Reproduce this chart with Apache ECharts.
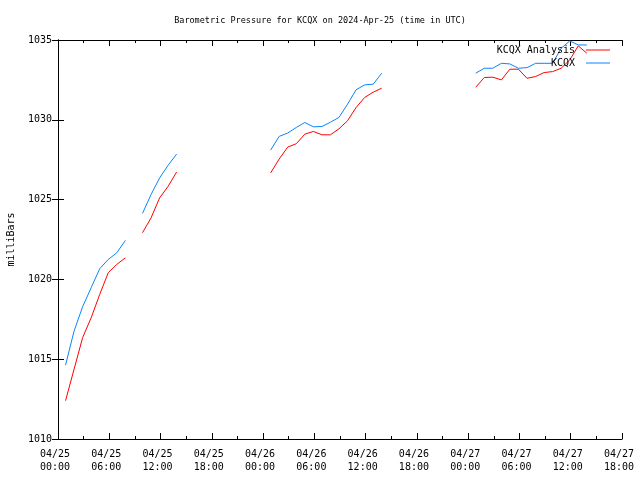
<!DOCTYPE html>
<html>
<head>
<meta charset="utf-8">
<script src="https://cdn.jsdelivr.net/npm/echarts@6/dist/echarts.min.js"></script>
<style>html,body{margin:0;padding:0;background:#fff}#c{width:640px;height:480px}</style>
</head>
<body>
<div id="c"></div>
<script>
// observation times (UTC); entries with null values mark missing observations (line gaps)
var times = [
  "04/25 00:53","04/25 01:53","04/25 02:53","04/25 03:53","04/25 04:53","04/25 05:53","04/25 06:53","04/25 07:53","04/25 08:53",
  "04/25 09:53","04/25 10:53","04/25 11:53","04/25 12:53","04/25 13:53","04/25 14:53",
  "04/26 00:53","04/26 01:53","04/26 02:53","04/26 03:53","04/26 04:53","04/26 05:53","04/26 06:53","04/26 07:53",
  "04/26 08:53","04/26 09:53","04/26 10:53","04/26 11:53","04/26 12:53","04/26 13:53","04/26 14:53",
  "04/27 00:53","04/27 01:53","04/27 02:53","04/27 03:53","04/27 04:53","04/27 05:53","04/27 06:53","04/27 07:53",
  "04/27 08:53","04/27 09:53","04/27 10:53","04/27 11:53","04/27 12:53","04/27 13:53"
];
var kcqxAnalysis = [
  1012.40,1014.38,1016.35,1017.60,1019.06,1020.42,1020.94,1021.35,null,
  1022.92,1023.85,1025.10,1025.83,1026.73,null,
  1026.67,1027.54,1028.29,1028.50,1029.10,1029.27,1029.06,1029.06,
  1029.44,1029.94,1030.77,1031.40,1031.73,1031.98,null,
  1032.04,1032.65,1032.67,1032.50,1033.17,1033.17,1032.60,1032.71,
  1032.96,1033.02,1033.23,1033.75,1034.63,1034.17
];
var kcqx = [
  1014.63,1016.77,1018.29,1019.48,1020.67,1021.25,1021.67,1022.44,null,
  1024.13,1025.31,1026.35,1027.15,1027.85,null,
  1028.10,1028.96,1029.17,1029.52,1029.83,1029.56,1029.58,1029.85,
  1030.15,1030.98,1031.88,1032.19,1032.23,1032.92,null,
  1032.92,1033.23,1033.23,1033.54,1033.50,1033.23,1033.27,1033.54,
  1033.54,1033.54,1034.48,1034.94,1034.69,1034.69
];
var xTickLabels = ["04/25\n00:00","04/25\n06:00","04/25\n12:00","04/25\n18:00","04/26\n00:00","04/26\n06:00",
                   "04/26\n12:00","04/26\n18:00","04/27\n00:00","04/27\n06:00","04/27\n12:00","04/27\n18:00"];
var seriesNames = ["KCQX Analysis","KCQX"];
var yMin = 1010, yMax = 1035;

// hours since 04/25 00:00
function toHours(t){
  var p = t.split(" "), d = p[0].split("/"), hm = p[1].split(":");
  return (parseInt(d[1],10)-25)*24 + parseInt(hm[0],10) + parseInt(hm[1],10)/60;
}
function pairs(vals){
  return times.map(function(t,i){ return [toHours(t), vals[i]]; });
}
var FONT = "DejaVu Sans Mono";
var chart = echarts.init(document.getElementById('c'), null, {renderer:'canvas'});
var axisLine = {show:true, lineStyle:{color:'#000', width:1}};
chart.setOption({
  animation:false,
  backgroundColor:'#fff',
  title:{text:'Barometric Pressure for KCQX on 2024-Apr-25 (time in UTC)', left:'center', top:11,
    textStyle:{fontFamily:FONT, fontSize:8.5, fontWeight:'normal', color:'#000'}},
  legend:{orient:'vertical', right:25, top:40, align:'right', itemWidth:24, itemHeight:1, itemGap:3,
    icon:'rect', textStyle:{fontFamily:FONT, fontSize:10, color:'#000', lineHeight:10, padding:[0,6,0,0]},
    data:seriesNames},
  grid:{left:58, right:18, top:40, bottom:41, show:false, outerBoundsMode:'none', containLabel:false},
  xAxis:[{
    type:'value', min:0, max:66, interval:6, position:'bottom',
    axisLine:axisLine,
    axisTick:{show:true, inside:true, length:6, lineStyle:{color:'#000'}},
    minorTick:{show:true, splitNumber:2, length:3, lineStyle:{color:'#000'}},
    splitLine:{show:false},
    axisLabel:{fontFamily:FONT, fontSize:10, color:'#000', margin:9, lineHeight:13, padding:[0,6,0,0],
      formatter:function(v){ return xTickLabels[Math.round(v/6)]; }}
  },{
    type:'value', min:0, max:66, interval:6, position:'top',
    axisLine:axisLine,
    axisTick:{show:true, inside:true, length:6, lineStyle:{color:'#000'}},
    minorTick:{show:true, splitNumber:2, length:3, lineStyle:{color:'#000'}},
    splitLine:{show:false}, axisLabel:{show:false}
  }],
  yAxis:[{
    type:'value', min:yMin, max:yMax, interval:5, position:'left',
    name:'milliBars', nameLocation:'middle', nameGap:42, nameRotate:90,
    nameTextStyle:{fontFamily:FONT, fontSize:10, color:'#000'},
    axisLine:axisLine,
    axisTick:{show:true, inside:true, length:6, lineStyle:{color:'#000'}},
    splitLine:{show:false},
    axisLabel:{fontFamily:FONT, fontSize:10, color:'#000', margin:6,
      formatter:function(v){ return String(v); }}
  },{
    type:'value', min:yMin, max:yMax, interval:5, position:'right',
    axisLine:axisLine,
    axisTick:{show:true, inside:true, length:6, lineStyle:{color:'#000'}},
    splitLine:{show:false}, axisLabel:{show:false}
  }],
  series:[{
    name:seriesNames[0], type:'line', data:pairs(kcqxAnalysis), showSymbol:false, symbol:'none',
    connectNulls:false, color:'#ff0000', lineStyle:{width:1, color:'#ff0000'}, itemStyle:{color:'#ff0000'}
  },{
    name:seriesNames[1], type:'line', data:pairs(kcqx), showSymbol:false, symbol:'none',
    connectNulls:false, color:'#0a84ff', lineStyle:{width:1, color:'#0a84ff'}, itemStyle:{color:'#0a84ff'}
  }]
});
</script>
</body>
</html>
